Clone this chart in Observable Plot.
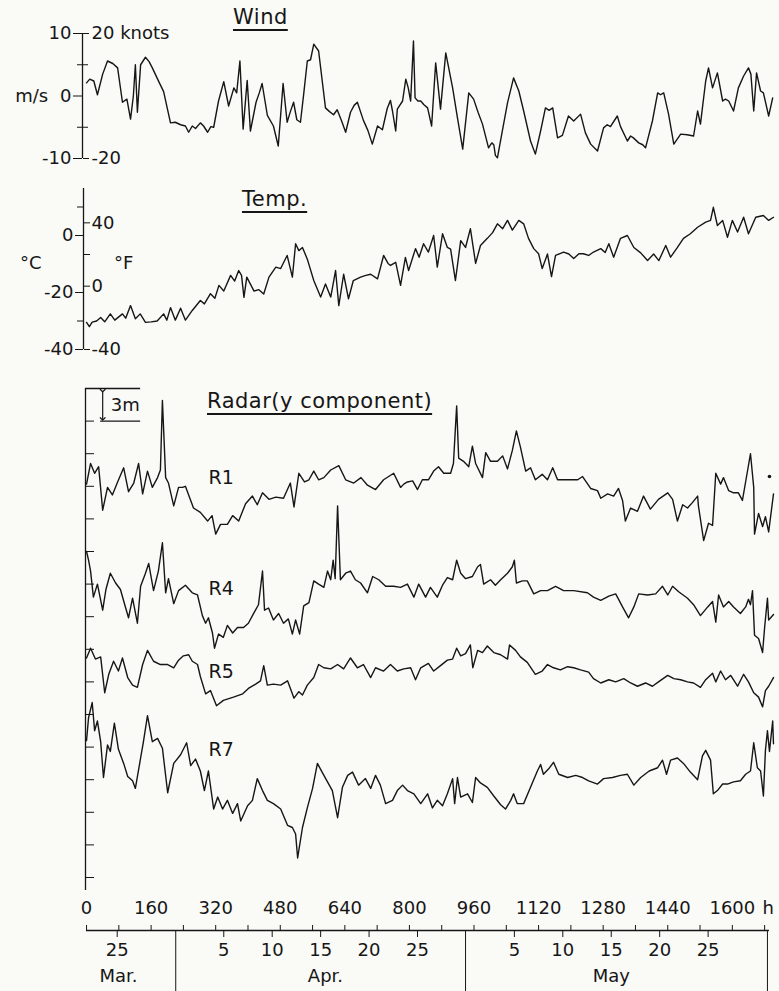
<!DOCTYPE html>
<html><head><meta charset="utf-8">
<script src="https://cdn.jsdelivr.net/npm/d3@7"></script>
<script src="https://cdn.jsdelivr.net/npm/@observablehq/plot@0.6"></script>
<style>
body{margin:0;background:#fafaf7;}
#fig{position:relative;width:779px;height:991px;background:#fafaf7;font-family:"DejaVu Sans",sans-serif;color:#161616;overflow:hidden}
#fig svg{position:absolute;left:0;top:0;overflow:visible}
.title{position:absolute;font-size:21px;line-height:21px;letter-spacing:0.5px;text-decoration:underline;text-decoration-thickness:2px;text-underline-offset:5px;white-space:nowrap}
</style></head><body><div id="fig">
<div class="title" style="left:233px;top:7px">Wind</div>
<div class="title" style="left:242px;top:189px">Temp.</div>
<div class="title" style="left:207px;top:391px">Radar(y component)</div>
</div>
<script>
// ---- data: [hours, value] ----
const windData = [[0,2.1],[8,2.7],[18,2.4],[27,0.2],[40,3.5],[52,5.6],[65,5.2],[77,4.5],[89,-1],[100,-0.5],[109,-3.7],[116,0],[121,5],[126,-2.6],[134,5],[146,6.2],[155,5.5],[163,4.5],[179,2.3],[191,0.7],[208,-4.3],[220,-4.2],[233,-4.6],[245,-4.8],[253,-5.8],[262,-4.8],[270,-5.2],[282,-4.3],[290,-4.8],[300,-5.8],[308,-4.9],[315,-5],[327,-0.8],[340,2.3],[352,-1.6],[365,1.3],[372,0.5],[380,5.6],[388,-5.3],[398,2.5],[406,-5.6],[420,-1],[428,0.5],[435,2],[448,-3.1],[463,-4.8],[475,-8],[487,2],[497,-4.2],[505,-2.5],[513,-1],[521,-3.8],[530,-4.2],[538,0.3],[547,5.6],[555,5.8],[563,8.3],[575,7.2],[592,-1.9],[602,-2.5],[612,-3],[621,-2.2],[632,-4],[642,-5.8],[654,-2.6],[663,-1.5],[671,-1],[686,-3.9],[697,-5.5],[708,-7.7],[721,-4.8],[733,-5.4],[745,-2],[753,-0.7],[758,-2.4],[766,-5.6],[770,-2.1],[783,-0.8],[791,2.7],[797,1.3],[803,-0.8],[810,8.8],[814,-0.3],[821,-0.8],[828,-0.8],[836,-1.4],[845,-1.9],[855,-4.8],[865,5.3],[877,-2.1],[890,6.9],[907,1.3],[919,-3.5],[932,-8.5],[947,0.5],[959,-0.5],[970,-2.6],[981,-4.5],[996,-8.3],[1004,-7.5],[1009,-7.8],[1013,-9.5],[1018,-9.9],[1031,-5.3],[1043,-1.1],[1058,2.9],[1071,0.8],[1083,-2.4],[1100,-7.2],[1112,-9.3],[1125,-5.6],[1137,-1.9],[1146,-2.3],[1155,-1.9],[1167,-6.7],[1179,-6.3],[1194,-3.2],[1207,-4],[1224,-2.9],[1236,-5.9],[1249,-7.7],[1266,-8.8],[1281,-5.1],[1290,-4.6],[1298,-4.9],[1315,-3.2],[1323,-4.9],[1340,-7.2],[1348,-6.4],[1355,-6.7],[1368,-7.5],[1378,-7.8],[1385,-8.3],[1402,-4],[1415,0.5],[1422,0.2],[1430,0.5],[1442,-2.9],[1455,-7.7],[1472,-6.1],[1488,-6.2],[1504,-6.4],[1514,-2.4],[1521,-4.5],[1534,2.4],[1541,4.5],[1551,1.3],[1563,3.7],[1576,-0.8],[1583,-0.5],[1591,-0.8],[1603,-2.4],[1615,1.3],[1628,3.2],[1640,4.5],[1646,3.5],[1653,-2.4],[1660,3.7],[1670,0.8],[1677,0.5],[1690,-3.2],[1700,-0.3]];

const tempData = [[0,-30.5],[7,-32],[14,-30.4],[25,-30],[35,-28.8],[45,-30.3],[59,-27.5],[70,-29.7],[89,-27.5],[97,-29],[109,-24.6],[121,-29.2],[133,-27.5],[146,-30.5],[160,-30.3],[175,-30],[191,-27.5],[199,-29.7],[208,-25.3],[220,-29.7],[233,-25.5],[245,-29.7],[262,-26.3],[282,-22.8],[292,-24],[307,-20.4],[318,-22],[328,-17.5],[340,-19.5],[357,-14],[367,-16],[377,-12.3],[384,-14],[390,-21.7],[397,-14.6],[415,-19.5],[427,-19],[439,-20.5],[452,-14.6],[469,-11.1],[481,-11.6],[497,-7],[510,-14.6],[518,-2.9],[526,-5.3],[535,-4.2],[547,-8.3],[563,-15.8],[580,-21.6],[592,-17],[605,-21.6],[617,-12.3],[625,-24.6],[637,-13.6],[649,-22.2],[661,-15.8],[679,-14.6],[692,-14],[704,-13.6],[721,-15.2],[736,-7],[747,-9.8],[753,-10.5],[766,-9.4],[778,-17.5],[790,-7.7],[798,-12.3],[815,-4.6],[824,-7.6],[835,-2.9],[847,-5.8],[860,0],[869,-11.1],[882,0.6],[894,-4.2],[902,-4.8],[914,-15.8],[927,-1.8],[939,-4.2],[951,2.4],[964,-9.8],[976,-3.5],[993,-1],[1006,1],[1018,4.1],[1031,2.4],[1043,5.3],[1055,1.9],[1071,5.3],[1083,4.1],[1095,-1],[1108,-4.6],[1120,-6.4],[1129,-11.6],[1142,-6.5],[1152,-14.4],[1162,-7],[1182,-5.8],[1195,-6.5],[1207,-8.1],[1220,-6.4],[1231,-6.4],[1244,-7],[1256,-5.8],[1274,-4.6],[1285,-6],[1294,-2.9],[1306,-7.6],[1323,-1],[1340,0],[1356,-4.2],[1373,-6.1],[1390,-8.8],[1405,-6.5],[1418,-8.8],[1435,-3.5],[1447,-7.6],[1464,-4.2],[1479,-1],[1496,0.6],[1514,2.9],[1534,4.7],[1546,5.3],[1553,9.9],[1563,3.5],[1576,5.3],[1588,-0.6],[1600,5.3],[1613,1.2],[1628,6.4],[1640,0.6],[1658,6.4],[1677,7],[1690,5.3],[1702,6.4]];

// radar series, metres on the 0-45 m offset scale
const r1Data = [[0,36.2],[10,38.1],[20,37.2],[30,37.8],[40,33.8],[52,35.9],[64,35.2],[77,36.4],[92,37.7],[104,35.5],[117,36.3],[129,38.1],[139,35.3],[151,37.4],[163,35.9],[176,36.8],[183,37.5],[188,43.9],[196,36.8],[203,36.3],[216,34.2],[228,35.9],[238,35.9],[245,36],[253,35.2],[265,34.0],[282,33.6],[300,32.8],[311,33.3],[320,31.6],[332,32.5],[349,32.5],[362,33.3],[377,32.8],[394,34.4],[411,35.1],[423,34.3],[436,35.4],[452,34.8],[469,35],[488,34.9],[505,36.3],[514,34.1],[526,37.2],[540,36.4],[551,36.6],[563,37.4],[575,36.6],[588,36.8],[605,37.5],[625,37.9],[642,36.6],[662,36.3],[680,36.8],[696,36.1],[716,35.7],[736,36.6],[761,37.2],[778,35.9],[786,36.2],[795,36.4],[808,36.5],[820,35.7],[832,36.6],[847,36.6],[860,37.4],[872,37.8],[885,37.2],[902,37.2],[909,38.1],[917,43.4],[922,38.6],[934,38.3],[947,37.8],[956,39.7],[964,38.1],[981,36.8],[989,39.1],[1001,38.3],[1018,38.3],[1031,38.8],[1043,37.6],[1055,39.3],[1065,41.1],[1075,39.6],[1088,37.4],[1100,37.7],[1112,36.6],[1129,37.1],[1142,36.6],[1155,37.7],[1167,36.6],[1182,36.6],[1199,36.6],[1217,36.6],[1229,36.9],[1249,35.8],[1266,35.6],[1274,34.9],[1291,35.3],[1306,35.1],[1318,35.8],[1328,34.7],[1335,32.8],[1348,34.0],[1365,33.7],[1380,35.1],[1397,33.9],[1417,34.8],[1440,35.4],[1452,34.8],[1464,32.8],[1477,34.3],[1489,34.0],[1501,34.5],[1514,35.1],[1516,34.2],[1529,31.0],[1541,32.6],[1551,32.4],[1559,37.2],[1571,36.2],[1578,36.8],[1591,35.6],[1603,35.4],[1615,35.4],[1625,34.7],[1638,37.5],[1645,39.0],[1653,35.9],[1655,31.6],[1665,33.5],[1675,32.3],[1682,33.2],[1690,31.8],[1702,35.3]];

const r4Data = [[0,30.0],[5,29.2],[10,28.2],[17,25.8],[27,27.0],[40,24.6],[48,26.5],[59,28.0],[72,27.1],[84,26.5],[97,24.8],[104,23.9],[114,25.7],[126,23.4],[134,26.8],[146,28.0],[154,28.9],[166,26.4],[178,28.2],[188,30.8],[196,26.2],[203,27.5],[216,25.2],[228,26.4],[245,26.9],[262,26.2],[275,26.0],[287,24.1],[295,23.4],[302,23.9],[312,22.5],[317,21.1],[327,22.4],[339,22.1],[349,23.2],[362,22.5],[374,23.0],[389,23.0],[401,23.4],[414,24.3],[426,25.1],[436,28.2],[441,24.6],[451,24.8],[463,23.7],[476,24.3],[488,23.4],[500,23.8],[510,22.4],[518,23.7],[528,22.4],[538,25.0],[551,25.3],[563,27.3],[575,27.0],[588,26.7],[597,28.2],[605,27.4],[611,29.2],[616,27.5],[622,34.2],[629,27.4],[642,28.0],[654,28.2],[666,27.4],[679,27.1],[696,26.2],[709,27.7],[724,27.4],[741,26.8],[761,26.8],[778,26.7],[795,27.0],[811,25.8],[823,27.0],[840,25.8],[852,26.7],[869,25.8],[882,26.9],[894,27.6],[907,27.4],[917,29.2],[927,28.0],[939,27.5],[956,27.7],[969,28.6],[976,28.8],[984,27.0],[1001,27.4],[1013,26.9],[1026,27.4],[1043,28.0],[1055,28.6],[1060,29.2],[1065,27.1],[1080,27.3],[1092,27.3],[1108,26.1],[1125,26.4],[1142,26.4],[1162,26.8],[1182,26.4],[1207,26.4],[1241,26.2],[1256,25.8],[1274,25.5],[1294,25.9],[1311,26.1],[1328,24.9],[1343,23.9],[1356,24.9],[1368,26.1],[1390,26.0],[1410,26.1],[1427,26.8],[1440,26.0],[1452,26.8],[1467,26.3],[1489,25.7],[1504,25.1],[1521,24.1],[1539,24.9],[1551,25.4],[1559,23.5],[1566,26.0],[1578,24.9],[1591,25.4],[1603,24.9],[1620,24.3],[1633,24.9],[1640,25.6],[1645,25.1],[1650,26.4],[1655,22.3],[1665,22.0],[1675,20.7],[1680,23.0],[1687,25.7],[1690,23.7],[1702,24.2]];

const r5Data = [[0,20.2],[10,21.1],[22,20.1],[35,20.3],[45,17.0],[55,18.7],[67,19.9],[79,19.0],[89,20.2],[102,18.4],[114,17.7],[126,17.5],[139,19.6],[151,20.9],[166,19.9],[183,19.6],[201,19.6],[216,19.3],[228,20.0],[240,20.4],[253,20.5],[262,19.9],[275,19.6],[282,18.5],[295,16.9],[307,17.2],[322,15.8],[339,16.3],[364,16.6],[387,16.9],[401,17.4],[419,17.8],[431,18.1],[439,19.5],[448,17.7],[463,17.8],[481,17.7],[498,18.1],[514,16.5],[526,17.1],[535,16.8],[547,17.7],[563,18.4],[575,19.6],[588,19.3],[605,19.2],[622,19.6],[637,19.2],[654,20.2],[671,19.3],[686,19.6],[704,18.4],[716,19.3],[736,19.0],[753,19.6],[770,19.0],[786,19.2],[803,19.3],[815,18.2],[828,19.3],[847,19.7],[860,19.0],[877,19.5],[894,20.0],[907,20.1],[917,21.1],[927,20.4],[939,20.6],[951,21.4],[957,19.3],[969,20.9],[981,20.7],[993,21.3],[1009,20.7],[1026,20.5],[1043,20.1],[1048,21.4],[1063,20.9],[1075,20.3],[1092,19.8],[1112,18.7],[1129,19.0],[1142,19.6],[1157,19.3],[1174,19.1],[1192,19.4],[1207,19.3],[1224,19.1],[1244,18.9],[1256,18.3],[1274,17.9],[1294,18.2],[1311,18.0],[1331,18.3],[1348,17.9],[1365,17.6],[1385,17.9],[1402,17.6],[1417,18.0],[1440,18.6],[1455,18.3],[1472,18.2],[1489,18.0],[1504,17.9],[1521,17.5],[1534,18.2],[1551,18.8],[1559,18.0],[1571,19.0],[1583,18.2],[1596,18.6],[1613,17.6],[1628,18.7],[1640,18.0],[1653,17.0],[1665,16.6],[1675,15.7],[1682,17.2],[1690,17.6],[1702,18.4]];

const r7Data = [[0,12.6],[5,14.7],[14,16.1],[20,13.5],[27,14.4],[35,12.5],[42,9.2],[52,12.2],[59,11.6],[69,14.2],[79,11.8],[92,10.5],[102,9.3],[114,8.9],[121,8.2],[134,11.0],[141,12.5],[151,14.9],[163,12.5],[176,12.8],[188,11.9],[201,7.8],[216,10.5],[233,11.3],[248,12.4],[258,10.3],[270,10.9],[282,9.8],[292,8.0],[302,9.8],[315,6.3],[325,7.4],[337,6.3],[349,7.1],[362,5.9],[374,6.8],[382,5.2],[399,6.6],[411,7.1],[423,9.1],[436,8.0],[448,7.1],[463,6.8],[481,6.3],[498,4.8],[510,4.6],[518,4.0],[523,1.8],[535,4.6],[547,6.4],[560,8.2],[572,10.5],[585,9.6],[597,8.8],[609,8.0],[622,5.5],[634,8.3],[647,9.4],[659,9.7],[674,8.5],[691,9.1],[704,8.2],[716,9.4],[728,8.5],[741,6.8],[758,7.1],[770,8.0],[783,8.5],[795,8.0],[811,7.7],[828,6.8],[845,7.7],[857,6.4],[869,7.1],[882,6.6],[894,7.7],[907,9.1],[912,6.8],[919,9.2],[927,7.4],[944,7.7],[956,6.9],[964,9.2],[976,8.7],[993,8.3],[1009,7.5],[1026,6.7],[1038,6.3],[1051,7.1],[1058,7.7],[1067,6.8],[1083,6.8],[1100,8.3],[1117,9.8],[1125,10.4],[1132,9.5],[1145,10.0],[1157,10.6],[1170,9.5],[1192,9.2],[1212,9.4],[1229,9.2],[1244,8.9],[1266,8.6],[1281,9.1],[1303,9.2],[1323,9.4],[1340,9.5],[1356,8.5],[1373,9.2],[1394,9.8],[1415,10.1],[1427,10.8],[1437,9.5],[1447,10.8],[1464,11.0],[1479,10.5],[1496,9.7],[1514,9.0],[1526,11.2],[1534,11.7],[1546,10.8],[1553,7.7],[1563,8.0],[1576,8.6],[1588,8.6],[1603,8.8],[1620,8.9],[1633,9.5],[1645,9.8],[1653,12.4],[1662,10.1],[1670,9.8],[1677,7.5],[1682,11.7],[1687,13.5],[1692,11.6],[1700,14.4],[1702,12.3]];

const radarSeries = [
  {name: "R1", data: r1Data, labelAt: [302, 36.8]},
  {name: "R4", data: r4Data, labelAt: [302, 26.6]},
  {name: "R5", data: r5Data, labelAt: [302, 18.9]},
  {name: "R7", data: r7Data, labelAt: [302, 11.7]}
];
const radarDot = [[1692, 36.9]];

// ---- tick definitions ----
const windLeftTicks = [10, 0, -10];
const windKnotTicks = [10, -10];
const windKnotLabels = {"10": "20 knots", "-10": "-20"};
const windMinorTicks = [5, -5];
const tempCTicks = [0, -20, -40];
const tempCMinor = [10, -30];
const tempFTicks = [40, 0, -40];
const tempFMinor = [20];
const radarTicks = d3.range(0, 46, 3);
const hourTicks = d3.range(0, 1681, 80);
const hourLabelStep = 160;
const hourUnit = "h";
const dateTicks = [76, 340, 460, 580, 700, 820, 1060, 1180, 1300, 1420, 1540];
const dateLabels = ["25", "5", "10", "15", "20", "25", "5", "10", "15", "20", "25"];
const monthBounds = [221, 939, 1687];
const monthCenters = [79, 592, 1300];
const monthNames = ["Mar.", "Apr.", "May"];

// ---- drawing ----
const ink = "#161616";
const FONT = '"DejaVu Sans", sans-serif';
const fig = document.getElementById("fig");
const X = {domain: [-10, 1702], range: [82, 773], axis: null};
const fToC = f => (f - 32) * 5 / 9;
const cToF = c => Math.round(c * 9 / 5 + 32);
const lineStyle = {stroke: ink, strokeWidth: 1.4, strokeLinejoin: "round"};
function panel(opts) {
  const svg = Plot.plot({width: 779, height: 991,
    style: {background: "transparent", fontFamily: FONT, fontSize: "18px", color: ink, overflow: "visible"},
    ...opts});
  fig.appendChild(svg);
}
const xy = {x: d => d[0], y: d => d[1]};

// Wind
panel({
  marginLeft: 82, marginRight: 697, marginTop: 33, marginBottom: 833,
  x: X, y: {domain: [-10, 10], range: [158, 33]},
  marks: [
    Plot.ruleX([0], {x: null, y1: -10, y2: 10, stroke: ink, strokeWidth: 1.3}),
    Plot.axisY({anchor: "left", ticks: windLeftTicks, tickSize: 9, tickPadding: 2, tickFormat: d => String(d), label: null, fontSize: 18}),
    Plot.axisY({anchor: "right", ticks: windKnotTicks, tickSize: 6, tickPadding: 3, tickFormat: d => windKnotLabels[String(d)], label: null, fontSize: 18}),
    Plot.axisY({anchor: "left", ticks: windMinorTicks, tickSize: 5, text: null, label: null}),
    Plot.axisY({anchor: "right", ticks: windMinorTicks, tickSize: 5, text: null, label: null}),
    Plot.text(["m/s"], {x: -136, y: 0, fontSize: 18, fill: ink}),
    Plot.line(windData, {...xy, ...lineStyle})
  ]
});

// Temperature
panel({
  marginLeft: 83, marginRight: 696, marginTop: 188, marginBottom: 642,
  x: X, y: {domain: [-40, 20], range: [349, 178]},
  marks: [
    Plot.ruleX([0], {x: null, y1: -40, y2: 16.5, stroke: ink, strokeWidth: 1.3}),
    Plot.axisY({anchor: "left", ticks: tempCTicks, tickSize: 8, tickPadding: 2, tickFormat: d => String(d), label: null, fontSize: 18}),
    Plot.axisY({anchor: "left", ticks: tempCMinor, tickSize: 6, text: null, label: null}),
    Plot.axisY({anchor: "right", ticks: tempFTicks.map(fToC), tickSize: 6, tickPadding: 2, tickFormat: d => String(cToF(d)), label: null, fontSize: 18}),
    Plot.axisY({anchor: "right", ticks: tempFMinor.map(fToC), tickSize: 6, text: null, label: null}),
    Plot.text(["°C"], {x: -138, y: -9.8, fontSize: 18, fill: ink}),
    Plot.text(["°F"], {x: 92, y: -9.8, fontSize: 18, fill: ink}),
    Plot.line(tempData, {...xy, ...lineStyle})
  ]
});

// Radar + time axes
panel({
  marginLeft: 85, marginRight: 694, marginTop: 930, marginBottom: 61,
  x: X, y: {domain: [0, 45], range: [877, 388]},
  marks: [
    Plot.ruleX([0], {x: null, y1: -1.2, y2: 45, stroke: ink, strokeWidth: 1.3}),
    Plot.axisY({anchor: "right", ticks: radarTicks, tickSize: 8, text: null, label: null}),
    // 3 m scale bar
    Plot.ruleY([45], {x1: -2.6, x2: 134, stroke: ink, strokeWidth: 1.3}),
    Plot.ruleY([42], {x1: 35, x2: 134, stroke: ink, strokeWidth: 1.3}),
    Plot.link([0], {x1: 40, x2: 40, y1: 44.8, y2: 42.2, stroke: ink, strokeWidth: 1.2, markerStart: "arrow", markerEnd: "arrow"}),
    Plot.text(["3m"], {x: 60, y: 43.5, textAnchor: "start", fontSize: 18, fill: ink}),
    ...radarSeries.map(s => Plot.line(s.data, {...xy, ...lineStyle})),
    Plot.text(radarSeries, {x: s => s.labelAt[0], y: s => s.labelAt[1], text: "name", textAnchor: "start", fontSize: 19, fill: ink}),
    Plot.dot(radarDot, {...xy, r: 1.8, fill: ink, stroke: null}),
    // hour axis (above the line)
    Plot.ruleY([0], {y: null, x1: 0, x2: 1692, stroke: ink, strokeWidth: 1.3}),
    Plot.axisX({anchor: "top", ticks: hourTicks, tickSize: 6, tickPadding: 16, lineAnchor: "middle",
      tickFormat: d => d % hourLabelStep === 0 ? String(d) : "", label: null, fontSize: 18}),
    Plot.text([hourUnit], {x: 1675, dy: -22, textAnchor: "start", fontSize: 18, fill: ink}),
    // date axis (below the line)
    Plot.axisX({anchor: "bottom", ticks: dateTicks, tickSize: 7, tickPadding: 13, lineAnchor: "middle",
      tickFormat: (d, i) => dateLabels[dateTicks.indexOf(d)], label: null, fontSize: 18}),
    Plot.axisX({anchor: "bottom", ticks: monthBounds, tickSize: 61, text: null, label: null}),
    Plot.axisX({anchor: "bottom", ticks: monthCenters, tickSize: 0, tickPadding: 46, lineAnchor: "middle",
      tickFormat: d => monthNames[monthCenters.indexOf(d)], label: null, fontSize: 18})
  ]
});
</script>
</body></html>
